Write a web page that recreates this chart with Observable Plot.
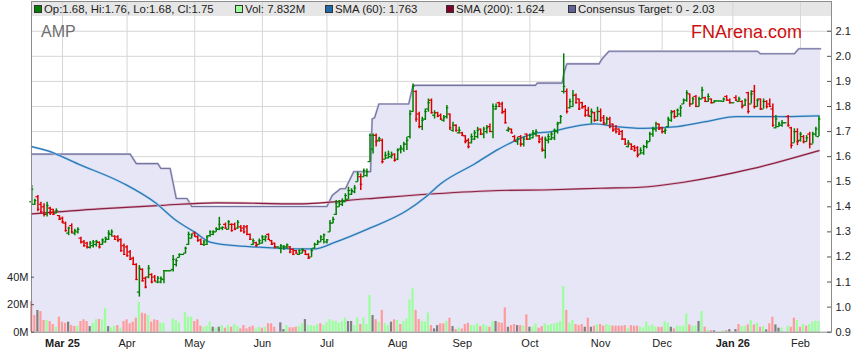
<!DOCTYPE html>
<html><head><meta charset="utf-8">
<script src="https://cdn.jsdelivr.net/npm/d3@7"></script>
<script src="https://cdn.jsdelivr.net/npm/@observablehq/plot@0.6"></script>
<style>
html,body{margin:0;padding:0;background:#fff;}
#chart{width:859px;height:363px;}
</style></head><body><div id="chart"></div>
<script>
// ---- Data (index = weekday number, 0 = 17 Feb 2025; one line per week) ----
const opens = [
1.42,1.41,1.44,1.41,1.40, 1.37,1.395,1.39,1.375,1.365, 1.355,1.335,1.295,1.325,1.295, 1.30,1.275,1.26,1.255,1.238,
1.245,1.25,1.258,1.25,1.26, 1.27,1.29,1.283,1.28,1.27, 1.245,1.24,1.22,1.195,1.17, 1.06,1.15,1.115,1.12,1.13,
1.12,1.10,1.10,1.11,1.145, 1.145,1.15,1.17,1.198,1.21, 1.215,1.25,1.275,1.295,1.28, 1.268,1.25,1.25,1.285,1.29,
1.30,1.31,1.315,1.33,1.31, 1.33,1.33,1.315,1.32,1.315, 1.32,1.29,1.25,1.257,1.25, 1.255,1.27,1.29,1.265,1.255,
1.24,1.235,1.24,1.24,1.24, 1.23,1.225,1.21,1.215,1.225, 1.21,1.20,1.235,1.25,1.26, 1.27,1.26,1.30,1.335,1.37,
1.40,1.41,1.42,1.43,1.45, 1.46,1.50,1.52,1.52,1.525, 1.58,1.63,1.685,1.665,1.665, 1.59,1.595,1.60,1.61,1.59,
1.63,1.63,1.65,1.68,1.78, 1.86,1.77,1.72,1.75,1.79, 1.825,1.765,1.775,1.765,1.745, 1.76,1.77,1.705,1.725,1.695,
1.695,1.683,1.665,1.655,1.67, 1.68,1.71,1.69,1.70,1.72, 1.70,1.79,1.815,1.81,1.78, 1.705,1.71,1.68,1.66,1.68,
1.65,1.69,1.67,1.675,1.69, 1.683,1.67,1.625,1.665,1.67, 1.675,1.70,1.735,1.86,1.86, 1.795,1.80,1.845,1.83,1.815,
1.80,1.785,1.76,1.775,1.745, 1.78,1.755,1.73,1.75,1.73, 1.71,1.71,1.70,1.67,1.64, 1.65,1.64,1.635,1.61,1.615,
1.64,1.66,1.69,1.71,1.73, 1.715,1.70,1.72,1.745,1.78, 1.76,1.77,1.81,1.825,1.85, 1.81,1.84,1.80,1.83,1.835,
1.82,1.83,1.815,1.822,1.822, 1.82,1.84,1.825,1.815,1.835, 1.82,1.82,1.805,1.855,1.81, 1.86,1.80,1.83,1.79,1.82,
1.81,1.79,1.715,1.72,1.725, 1.735,1.76,1.715,1.655,1.70, 1.665,1.68,1.66,1.69,1.65, 1.69,1.68];
const highs = [
1.485,1.43,1.445,1.418,1.412, 1.418,1.398,1.39,1.392,1.365, 1.359,1.339,1.319,1.332,1.31, 1.316,1.279,1.266,1.259,1.262,
1.266,1.266,1.26,1.272,1.279, 1.305,1.308,1.285,1.285,1.272, 1.252,1.245,1.226,1.199,1.173, 1.166,1.153,1.12,1.166,1.133,
1.126,1.122,1.12,1.146,1.145, 1.145,1.206,1.193,1.212,1.21, 1.239,1.299,1.292,1.299,1.285, 1.272,1.266,1.285,1.305,1.305,
1.316,1.358,1.32,1.335,1.345, 1.332,1.335,1.345,1.325,1.325, 1.325,1.292,1.272,1.259,1.272, 1.285,1.285,1.292,1.266,1.255,
1.24,1.25,1.246,1.252,1.242, 1.232,1.226,1.228,1.232,1.226, 1.213,1.232,1.255,1.266,1.285, 1.292,1.27,1.345,1.358,1.425,
1.425,1.432,1.452,1.478,1.472, 1.485,1.538,1.531,1.551,1.551, 1.69,1.69,1.69,1.677,1.67, 1.618,1.622,1.618,1.611,1.631,
1.644,1.657,1.677,1.784,1.89, 1.863,1.777,1.757,1.79,1.83, 1.83,1.783,1.777,1.77,1.764, 1.804,1.77,1.737,1.727,1.717,
1.697,1.684,1.671,1.69,1.704, 1.717,1.71,1.717,1.724,1.73, 1.81,1.81,1.817,1.817,1.79, 1.717,1.71,1.684,1.678,1.684,
1.678,1.69,1.69,1.704,1.707, 1.684,1.678,1.678,1.69,1.697, 1.71,1.737,1.764,2.01,1.87, 1.83,1.864,1.85,1.83,1.817,
1.804,1.797,1.79,1.777,1.797, 1.79,1.764,1.757,1.757,1.73, 1.724,1.71,1.704,1.671,1.664, 1.651,1.644,1.64,1.635,1.645,
1.664,1.697,1.717,1.737,1.73, 1.717,1.711,1.757,1.784,1.784, 1.79,1.804,1.83,1.863,1.85, 1.837,1.844,1.837,1.877,1.837,
1.85,1.83,1.823,1.822,1.822, 1.834,1.843,1.83,1.815,1.843, 1.837,1.823,1.83,1.857,1.863, 1.884,1.83,1.83,1.83,1.823,
1.83,1.81,1.764,1.737,1.744, 1.735,1.764,1.717,1.711,1.711, 1.697,1.684,1.684,1.697,1.697, 1.717,1.76];
const lows = [
1.405,1.405,1.38,1.372,1.359, 1.359,1.365,1.365,1.372,1.345, 1.332,1.299,1.285,1.292,1.285, 1.292,1.252,1.239,1.232,1.232,
1.236,1.239,1.232,1.246,1.255, 1.266,1.279,1.266,1.259,1.219, 1.206,1.199,1.186,1.166,1.106, 1.04,1.10,1.073,1.113,1.093,
1.10,1.093,1.093,1.093,1.145, 1.145,1.14,1.16,1.196,1.21, 1.212,1.246,1.272,1.279,1.259, 1.246,1.242,1.246,1.279,1.285,
1.299,1.305,1.305,1.31,1.308, 1.299,1.305,1.31,1.299,1.292, 1.285,1.266,1.246,1.239,1.248, 1.252,1.259,1.266,1.246,1.232,
1.24,1.213,1.226,1.232,1.213, 1.206,1.213,1.206,1.213,1.206, 1.19,1.199,1.232,1.246,1.259, 1.252,1.252,1.299,1.332,1.365,
1.398,1.401,1.418,1.428,1.445, 1.452,1.498,1.465,1.518,1.518, 1.578,1.611,1.638,1.657,1.571, 1.588,1.591,1.591,1.578,1.584,
1.611,1.618,1.624,1.67,1.777, 1.737,1.711,1.704,1.744,1.777, 1.77,1.75,1.757,1.744,1.737, 1.75,1.704,1.697,1.697,1.69,
1.68,1.651,1.631,1.651,1.664, 1.671,1.684,1.671,1.69,1.697, 1.671,1.785,1.797,1.77,1.73, 1.697,1.691,1.658,1.645,1.638,
1.638,1.664,1.664,1.671,1.678, 1.651,1.618,1.591,1.651,1.664, 1.664,1.69,1.73,1.85,1.77, 1.79,1.797,1.81,1.784,1.79,
1.757,1.757,1.73,1.737,1.74, 1.737,1.724,1.728,1.711,1.697, 1.69,1.684,1.664,1.645,1.635, 1.625,1.618,1.595,1.608,1.605,
1.631,1.658,1.677,1.697,1.704, 1.69,1.688,1.717,1.737,1.75, 1.757,1.757,1.808,1.817,1.797, 1.808,1.797,1.798,1.828,1.817,
1.817,1.81,1.813,1.822,1.822, 1.817,1.823,1.81,1.815,1.82, 1.817,1.79,1.80,1.77,1.81, 1.79,1.797,1.784,1.79,1.79,
1.797,1.717,1.711,1.717,1.717, 1.735,1.717,1.631,1.655,1.644, 1.658,1.651,1.658,1.631,1.65, 1.678,1.68];
const closes = [
1.47,1.425,1.39,1.38,1.37, 1.405,1.375,1.37,1.385,1.35, 1.34,1.305,1.315,1.30,1.305, 1.31,1.26,1.245,1.24,1.255,
1.26,1.262,1.24,1.268,1.275, 1.295,1.30,1.27,1.265,1.225, 1.21,1.205,1.19,1.17,1.11, 1.155,1.105,1.08,1.155,1.10,
1.105,1.115,1.115,1.145,1.145, 1.145,1.19,1.185,1.21,1.21, 1.235,1.29,1.288,1.283,1.265, 1.25,1.26,1.28,1.30,1.30,
1.312,1.33,1.318,1.315,1.34, 1.305,1.31,1.338,1.305,1.30, 1.29,1.27,1.265,1.245,1.265, 1.28,1.28,1.27,1.25,1.24,
1.24,1.245,1.24,1.248,1.22, 1.21,1.215,1.225,1.23,1.21, 1.195,1.225,1.25,1.26,1.28, 1.288,1.268,1.335,1.35,1.415,
1.42,1.425,1.445,1.465,1.465, 1.475,1.53,1.49,1.545,1.54, 1.685,1.685,1.66,1.672,1.58, 1.605,1.61,1.605,1.585,1.625,
1.635,1.65,1.665,1.77,1.88, 1.75,1.72,1.745,1.78,1.815, 1.775,1.775,1.76,1.75,1.755, 1.795,1.715,1.725,1.705,1.705,
1.685,1.66,1.64,1.68,1.695, 1.705,1.69,1.71,1.715,1.70, 1.80,1.80,1.80,1.775,1.735, 1.71,1.695,1.665,1.67,1.65,
1.67,1.67,1.685,1.695,1.70, 1.66,1.63,1.67,1.68,1.69, 1.705,1.73,1.76,1.88,1.78, 1.82,1.845,1.815,1.79,1.795,
1.765,1.765,1.78,1.745,1.78, 1.745,1.735,1.75,1.72,1.705, 1.70,1.69,1.67,1.65,1.655, 1.63,1.625,1.605,1.625,1.64,
1.655,1.69,1.71,1.73,1.71, 1.70,1.705,1.75,1.775,1.76, 1.785,1.795,1.825,1.855,1.81, 1.83,1.80,1.83,1.865,1.82,
1.84,1.815,1.822,1.822,1.822, 1.83,1.825,1.815,1.815,1.825, 1.83,1.80,1.825,1.78,1.85, 1.80,1.825,1.79,1.82,1.80,
1.80,1.725,1.75,1.73,1.735, 1.735,1.725,1.645,1.70,1.66, 1.69,1.66,1.675,1.65,1.69, 1.71,1.75];
// volume in millions, and its colour class: r = down, g = up, n = unchanged, - = holiday
const volumes = [
22.3,12.1,15.8,15,8.5, 8.5,7.8,5.6,3.6,10.9, 7.3,6.5,7.3,4.8,4.1, 4.4,7.8,9,7.8,4.1,
6.5,9,9.2,9,17, 4.1,3.2,4.4,4.8,2.9, 7.8,9,6.1,7.3,10.2, 21.8,13.8,13.3,12.1,7.3,
9,8.5,6.5,6.5,0, 0,9.7,8.5,6.5,0, 14.5,10.9,10.9,7.8,9, 4.4,3.6,4.4,7.3,3.6,
3.2,3.6,4.8,2.9,4.8, 3.6,5.6,4.1,2.4,4.8, 2.4,3.6,4.4,2.4,3.6, 2.9,3.6,6.1,6.1,3.6,
0,6.8,1.9,4.8,3.2, 3.2,3.6,4.1,6.1,9.2, 4.8,4.8,4.4,5.6,6.1, 4.8,6.8,9.2,8,8,
6.5,7.8,10.2,7.8,7.8, 4.8,10.4,5.6,10.4,5.6, 26.7,12.1,9,7.3,15.8, 6.1,4.8,7.3,9,8.5,
5.6,7.8,9.7,23.5,31.5, 15.8,9.2,7.8,7.3,14, 4.8,2.4,4.8,6.1,6.1, 7.8,10.2,4.1,1.9,3.2,
2.4,5.6,6.5,4.8,4.8, 6.1,4.1,5.6,4.4,3.6, 7.8,7.8,7,6.5,17.7, 3.6,4.8,5.6,4.8,4.8,
4.4,12.6,3.6,3.6,6.1, 2.9,4.1,6.1,4.8,5.6, 6.1,6.5,7.8,33.2,15.8, 6.5,8.5,5.6,4.8,5.6,
3.6,10.2,3.6,4.4,5.6, 5.6,4.4,5.6,4.8,4.4, 4.4,4.4,4.4,4.8,2.9, 4.8,4.4,4.4,3.6,3.2,
7.3,4.4,5.3,3.6,3.6, 3.6,7.8,6.5,3.6,2.4, 4.4,4.4,4.4,13.3,5.3, 4.4,4.4,7.8,15,3.6,
1.2,1.2,1.0,0,0, 1.2,1.2,1.9,0,1.9, 5.6,4.1,4.1,5.3,8.5, 5.3,6.5,3.6,4.1,1.7,
6.1,10.9,5.3,2.9,3, 0,4.4,3.6,10.2,8.5, 3.6,5.6,4.4,5.6,7.3, 8,7.832];
const volDir =
"rrnrr"+"grrgr"+"rrnrr"+"grrrn"+"ggrgg"+"nggrg"+"rrrrr"+"grrgr"+"rrgg-"+"-ggg-"+
"gggrr"+"rgggn"+"gngrg"+"rggrr"+"rrrgg"+"rgrrr"+"-nngr"+"rrggn"+"ggggr"+"ggggg"+
"gggnn"+"ggrgg"+"gnrgr"+"ggnrg"+"rgggg"+"rrggg"+"rnnrr"+"grnrg"+"rrrgg"+"grggr"+
"gnrrr"+"nrrnr"+"grngg"+"rrggg"+"ggggr"+"ggrrr"+"nrnrg"+"rrggr"+"rrrrg"+"rrrgg"+
"ggggr"+"rggnr"+"ggggr"+"ggngr"+"grn--"+"grn-n"+"rggrg"+"rgrgn"+"rrnng"+"-grrg"+
"rgrgg"+"gg";
// moving averages and consensus target (weekday index, value)
const sma60Idx = [0,5,15,30,40,47,53,58,65,74,87,92,98.5,109,122,128,133,144,152,163,169,175,183,190,199,210,221,229,245,256];
const sma60Val = [1.64,1.624,1.571,1.492,1.418,1.345,1.299,1.259,1.246,1.239,1.232,1.232,1.258,1.31,1.385,1.438,1.492,1.571,1.631,1.691,1.70,1.717,1.731,1.72,1.713,1.72,1.744,1.76,1.76,1.763];
const sma200Idx = [0,22,41,60,87,109,131,152,169,185,198,212,234,256];
const sma200Val = [1.372,1.392,1.405,1.416,1.412,1.432,1.452,1.465,1.468,1.474,1.478,1.498,1.551,1.624];
const tgtIdx = [0,32,34,41,42,45,46,47,50.5,52,96,97.7,100.4,102,104.7,110.2,110.7,111.5,112.9,122.6,124,163.8,164.4,172.5,173,174,184.5,185.5,187.7,236,237,248,249.4,256.5];
const tgtVal = [1.61,1.61,1.572,1.572,1.553,1.553,1.493,1.433,1.433,1.401,1.401,1.445,1.472,1.472,1.54,1.54,1.75,1.755,1.81,1.81,1.884,1.884,1.893,1.893,1.93,1.97,1.97,1.99,2.02,2.02,2.01,2.01,2.03,2.03];
// axes
const monthTicks = [10,31,53,75,96,119,140,162,185,205,228,250];
const monthLabels = ["Mar 25","Apr","May","Jun","Jul","Aug","Sep","Oct","Nov","Dec","Jan 26","Feb"];
const priceTicks = [0.9,1.0,1.1,1.2,1.3,1.4,1.5,1.6,1.7,1.8,1.9,2.0,2.1];
const volTicksM = [0,20,40];

// ---- Build ----
const N = closes.length;
const Y0 = 0.9;
const VOL_K = 0.2193 / 40;          // price units per million shares
const xMin = -0.08, xMax = 260.08, yTop = 2.2186;
const pxX = 800 / (xMax - xMin);    // pixels per index
const bars = d3.range(N).map(i => ({i, o: opens[i], h: highs[i], l: lows[i], c: closes[i], v: volumes[i], vd: volDir[i]}));
const up = bars.filter(d => d.c >= d.o), down = bars.filter(d => d.c < d.o);
const pts = (xs, ys) => xs.map((x, k) => ({x, y: ys[k]}));
const sma60 = pts(sma60Idx, sma60Val), sma200 = pts(sma200Idx, sma200Val), tgt = pts(tgtIdx, tgtVal);
const lastX = N - 0.5;
const monthData = monthTicks.map((t, k) => ({t, label: monthLabels[k], bold: monthLabels[k].includes(" ")}));
const volTicks = volTicksM.map(m => Y0 + m * VOL_K);
const TK = 0.65;
const GREEN = "#008000", RED = "#dd0000";
const volColor = {r: "#ff9b9b", g: "#9cff9c", n: "#808080"};
const FONT = "'Liberation Sans', Arial, sans-serif";

function ohlc(data, color) {
  return [
    Plot.ruleX(data, {x: "i", y1: "l", y2: "h", stroke: color, strokeWidth: 1.5}),
    Plot.ruleY(data, {y: "o", x1: d => d.i - TK, x2: d => d.i + 0.15, stroke: color, strokeWidth: 1.2}),
    Plot.ruleY(data, {y: "c", x1: d => d.i - 0.15, x2: d => d.i + TK, stroke: color, strokeWidth: 1.2})
  ];
}
function vol(cls) {
  return Plot.rect(bars.filter(d => d.vd === cls && d.v > 0), {
    x1: d => d.i - 0.36, x2: d => d.i + 0.36, y1: () => Y0, y2: d => Y0 + d.v * VOL_K, fill: volColor[cls]
  });
}

const plot = Plot.plot({
  width: 859, height: 363,
  marginLeft: 31, marginRight: 28, marginTop: 1, marginBottom: 31.3,
  x: {domain: [xMin, xMax], axis: null},
  y: {domain: [Y0, yTop], axis: null},
  style: {fontFamily: FONT, fontSize: "11px", color: "#222", background: "transparent"},
  marks: [
    Plot.ruleY(priceTicks, {y: d => d, x1: xMin, x2: d => d > 2.05 ? xMax : lastX, stroke: "#d6d6d6"}),
    Plot.ruleX(monthTicks, {x: d => d, y1: Y0, y2: yTop, stroke: "#d6d6d6"}),
    Plot.areaY(tgt, {x: "x", y1: () => Y0, y2: "y", fill: "#e6e6f6", curve: "linear"}),
    Plot.line(tgt, {x: "x", y: "y", stroke: "#c4c4dc", strokeWidth: 2.2, curve: "linear"}),
    Plot.line(tgt, {x: "x", y: "y", stroke: "#7474a0", strokeWidth: 1.1, curve: "linear"}),
    vol("r"), vol("g"), vol("n"),
    Plot.line(sma200, {x: "x", y: "y", stroke: "#dcb8c6", strokeWidth: 2.4, curve: "monotone-x"}),
    Plot.line(sma200, {x: "x", y: "y", stroke: "#8a1f45", strokeWidth: 1.2, curve: "monotone-x"}),
    Plot.line(sma60, {x: "x", y: "y", stroke: "#b8d4ec", strokeWidth: 2.4, curve: "monotone-x"}),
    Plot.line(sma60, {x: "x", y: "y", stroke: "#2c78b8", strokeWidth: 1.25, curve: "monotone-x"}),
    ...ohlc(up, GREEN), ...ohlc(down, RED),
    Plot.frame({stroke: "#8c8c8c"}),
    Plot.ruleY(priceTicks, {y: d => d, x1: xMax - 4 / pxX, x2: xMax, stroke: "#555"}),
    Plot.ruleY(volTicks, {y: d => d, x1: xMin, x2: xMin + 3 / pxX, stroke: "#555"}),
    Plot.axisY({anchor: "right", ticks: priceTicks, tickSize: 0, tickPadding: 4, tickFormat: d => d.toFixed(1), label: null, fontSize: 11}),
    Plot.axisY({anchor: "left", ticks: volTicks, tickSize: 0, tickPadding: 3, tickFormat: d => Math.round((d - Y0) / VOL_K) + "M", label: null, fontSize: 11}),
    Plot.text(monthData.filter(d => !d.bold), {x: "t", y: () => Y0, text: "label", dy: 11, fontSize: 11, fill: "#222"}),
    Plot.text(monthData.filter(d => d.bold), {x: "t", y: () => Y0, text: "label", dy: 11, fontSize: 11, fontWeight: "bold", fill: "#222"})
  ]
});

// ---- Decorations: legend strip, title, watermark ----
const svg = d3.select(plot);
svg.insert("rect", "g").attr("x", 31).attr("y", 1).attr("width", 800).attr("height", 15).attr("fill", "#e6e6e6");
svg.insert("rect", "rect").attr("x", 0).attr("y", 0).attr("width", 859).attr("height", 363).attr("fill", "#fff");
const last = N - 1;
const legend = [
  {x: 34, fill: GREEN, text: `Op:${opens[last].toFixed(2)}, Hi:${highs[last].toFixed(2)}, Lo:${lows[last].toFixed(2)}, Cl:${closes[last].toFixed(2)}`},
  {x: 235, fill: "#9cff9c", text: `Vol: ${volumes[last].toFixed(3)}M`},
  {x: 325, fill: "#1f68aa", text: `SMA (60): ${sma60Val[sma60Val.length - 1].toFixed(3)}`},
  {x: 446, fill: "#800028", text: `SMA (200): ${sma200Val[sma200Val.length - 1].toFixed(3)}`},
  {x: 568, fill: "#62629a", text: `Consensus Target: 0 - ${tgtVal[tgtVal.length - 1].toFixed(2)}`}
];
const lg = svg.append("g").attr("font-family", FONT).attr("font-size", 11.4).attr("text-anchor", "start");
legend.forEach(d => {
  lg.append("rect").attr("x", d.x + 0.5).attr("y", 5.5).attr("width", 7).attr("height", 7).attr("fill", d.fill).attr("stroke", "#333");
  lg.append("text").attr("x", d.x + 10).attr("y", 13).attr("fill", "#222").attr("text-anchor", "start").text(d.text);
});
svg.append("text").attr("x", 41).attr("y", 37).attr("font-family", FONT).attr("text-anchor", "start")
  .attr("font-size", 16).attr("fill", "#707070").text("AMP");
svg.append("text").attr("x", 691).attr("y", 38).attr("font-family", FONT).attr("text-anchor", "start")
  .attr("font-size", 18).attr("fill", "#cc1010").text("FNArena.com");

document.getElementById("chart").appendChild(plot);
</script>
</body></html>
